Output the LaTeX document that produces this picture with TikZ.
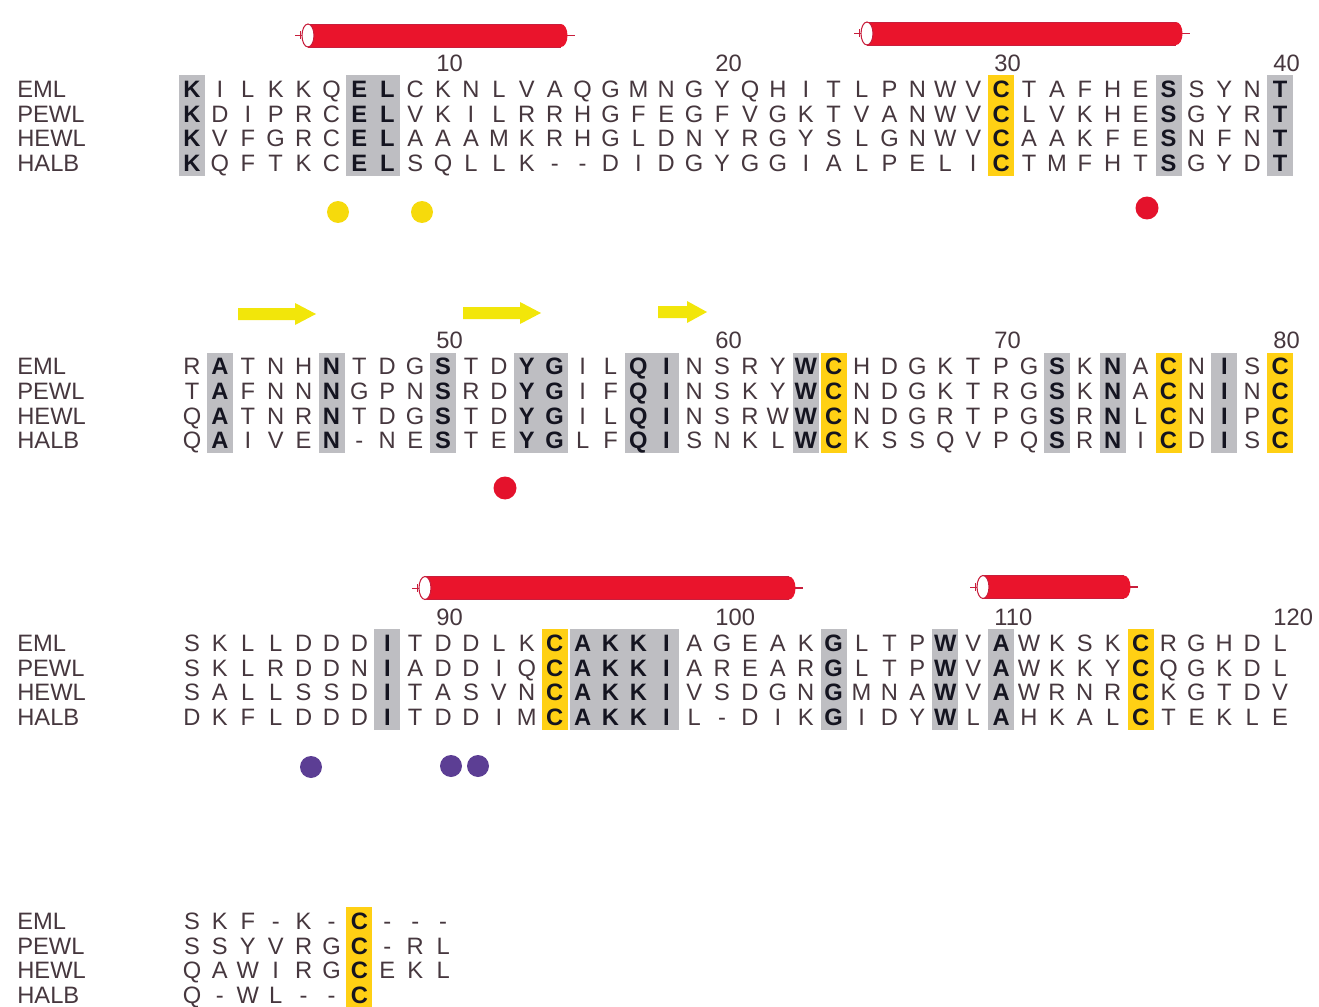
\documentclass[tikz,border=0pt]{standalone}
\usepackage{fontspec}
\setmainfont{Liberation Sans}

\definecolor{restext}{RGB}{70,55,62}
\definecolor{consblack}{RGB}{20,20,32}
\definecolor{consgray}{RGB}{190,190,194}
\definecolor{cysyellow}{RGB}{255,208,20}
\definecolor{helixred}{RGB}{234,20,44}
\definecolor{helixedge}{RGB}{200,30,60}
\definecolor{strandyellow}{RGB}{242,230,10}
\definecolor{dotyellow}{RGB}{246,218,12}
\definecolor{dotred}{RGB}{228,18,44}
\definecolor{dotpurple}{RGB}{92,62,148}

% conserved residue
\newcommand\cv[1]{{\bfseries\color{consblack}#1}}
% one row of residues: #1 y, #2 node prefix, #3 letters
\newcommand\seqrow[3]{%
  \foreach \res [count=\i] in {#3}
    \node[res] (#2c\i) at ({192+(\i-1)*27.9},#1) {\res};}
% shaded column range: #1 block y, #2 first col, #3 last col, #4 style
\newcommand\colbox[4]{%
  \fill[#4] ({192+(#2-1)*27.9-13},{#1-14}) rectangle ({192+(#3-1)*27.9+13},{#1+3*24.6+13});}
% helix cylinder: #1 x open end, #2 x closed end, #3 y
\newcommand\helix[3]{%
  \draw[helixedge, line width=0.4pt] ({#1-13},#3) -- (#1,#3) ({#1-8},{#3-4}) -- ({#1-8},{#3+4});
  \draw[helixedge, line width=0.6pt] (#2,#3) -- ({#2+14},#3);
  \fill[helixred] (#2,#3) ellipse [x radius=0.13cm, y radius=0.23cm];
  \fill[helixred] (#1,{#3-11.5}) rectangle (#2,{#3+11.5});
  \draw[helixedge, line width=0.4pt] (#1,{#3-11.5}) -- (#2,{#3-11.5}) (#1,{#3+11.5}) -- (#2,{#3+11.5});
  \filldraw[fill=white, draw=helixedge, line width=0.6pt] (#1,#3) ellipse [x radius=0.12cm, y radius=0.23cm];}
% beta strand arrow: #1 x tail, #2 x head base, #3 x tip, #4 y
\newcommand\strand[4]{%
  \fill[strandyellow] (#1,{#4-6}) -- (#2,{#4-6}) -- (#2,{#4-11}) -- (#3,#4)
    -- (#2,{#4+11}) -- (#2,{#4+6}) -- (#1,{#4+6}) -- cycle;}

\begin{document}
\begin{tikzpicture}[x=0.02cm, y=-0.02cm]
  \tikzset{
    res/.style={inner sep=0pt, anchor=base, yshift=-0.17cm, text=restext,
      font=\fontsize{13.5}{16}\selectfont},
    lab/.style={res, anchor=base west},
    num/.style={res, anchor=base west},
    graybox/.style={fill=consgray},
    cysbox/.style={fill=cysyellow}
  }
  \useasboundingbox (0,0) rectangle (1319,1007);

  % sequence names, four blocks
  \foreach \by [count=\b] in {89,366.5,643,921}
    \foreach \nm [count=\k] in {EML,PEWL,HEWL,HALB}
      \node[lab] (lab\b\nm) at (17,{\by+(\k-1)*24.6}) {\nm};

  % ==========================================
  % BLOCK 1 (residues 1-40)
  % ==========================================
  \helix{308}{561}{35.5}
  \helix{867}{1176}{33.5}
  \colbox{89}{1}{1}{graybox}
  \colbox{89}{7}{8}{graybox}
  \colbox{89}{30}{30}{cysbox}
  \colbox{89}{36}{36}{graybox}
  \colbox{89}{40}{40}{graybox}
  \foreach \n in {10,20,30,40}
    \node[num] (num1n\n) at ({192+(\n-1)*27.9-7},63) {\n};
  \seqrow{89}{aEML}{\cv{K},I,L,K,K,Q,\cv{E},\cv{L},C,K,N,L,V,A,Q,G,M,N,G,Y,Q,H,I,T,L,P,N,W,V,\cv{C},T,A,F,H,E,\cv{S},S,Y,N,\cv{T}}
  \seqrow{113.6}{aPEWL}{\cv{K},D,I,P,R,C,\cv{E},\cv{L},V,K,I,L,R,R,H,G,F,E,G,F,V,G,K,T,V,A,N,W,V,\cv{C},L,V,K,H,E,\cv{S},G,Y,R,\cv{T}}
  \seqrow{138.2}{aHEWL}{\cv{K},V,F,G,R,C,\cv{E},\cv{L},A,A,A,M,K,R,H,G,L,D,N,Y,R,G,Y,S,L,G,N,W,V,\cv{C},A,A,K,F,E,\cv{S},N,F,N,\cv{T}}
  \seqrow{162.8}{aHALB}{\cv{K},Q,F,T,K,C,\cv{E},\cv{L},S,Q,L,L,K,-,-,D,I,D,G,Y,G,G,I,A,L,P,E,L,I,\cv{C},T,M,F,H,T,\cv{S},G,Y,D,\cv{T}}
  \fill[dotyellow] (338,212) circle [radius=0.22cm];
  \fill[dotyellow] (422,212) circle [radius=0.22cm];
  \fill[dotred] (1147,208) circle [radius=0.23cm];

  % ==========================================
  % BLOCK 2 (residues 41-80)
  % ==========================================
  \strand{238}{295}{316}{314}
  \strand{463}{520}{541}{313}
  \strand{658}{687}{707}{312}
  \foreach \c in {2,6,10,23,32,34,38} \colbox{366.5}{\c}{\c}{graybox};
  \colbox{366.5}{13}{14}{graybox}
  \colbox{366.5}{17}{18}{graybox}
  \foreach \c in {24,36,40} \colbox{366.5}{\c}{\c}{cysbox};
  \foreach \n [count=\k] in {50,60,70,80}
    \node[num] (num2n\n) at ({192+(10*\k-1)*27.9-7},340.5) {\n};
  \seqrow{366.5}{bEML}{R,\cv{A},T,N,H,\cv{N},T,D,G,\cv{S},T,D,\cv{Y},\cv{G},I,L,\cv{Q},\cv{I},N,S,R,Y,\cv{W},\cv{C},H,D,G,K,T,P,G,\cv{S},K,\cv{N},A,\cv{C},N,\cv{I},S,\cv{C}}
  \seqrow{391.1}{bPEWL}{T,\cv{A},F,N,N,\cv{N},G,P,N,\cv{S},R,D,\cv{Y},\cv{G},I,F,\cv{Q},\cv{I},N,S,K,Y,\cv{W},\cv{C},N,D,G,K,T,R,G,\cv{S},K,\cv{N},A,\cv{C},N,\cv{I},N,\cv{C}}
  \seqrow{415.7}{bHEWL}{Q,\cv{A},T,N,R,\cv{N},T,D,G,\cv{S},T,D,\cv{Y},\cv{G},I,L,\cv{Q},\cv{I},N,S,R,W,\cv{W},\cv{C},N,D,G,R,T,P,G,\cv{S},R,\cv{N},L,\cv{C},N,\cv{I},P,\cv{C}}
  \seqrow{440.3}{bHALB}{Q,\cv{A},I,V,E,\cv{N},-,N,E,\cv{S},T,E,\cv{Y},\cv{G},L,F,\cv{Q},\cv{I},S,N,K,L,\cv{W},\cv{C},K,S,S,Q,V,P,Q,\cv{S},R,\cv{N},I,\cv{C},D,\cv{I},S,\cv{C}}
  \fill[dotred] (505,488) circle [radius=0.23cm];

  % ==========================================
  % BLOCK 3 (residues 81-120)
  % ==========================================
  \helix{425}{789}{588}
  \helix{983}{1124}{587}
  \foreach \c in {8,24,28,30} \colbox{643}{\c}{\c}{graybox};
  \colbox{643}{15}{18}{graybox}
  \foreach \c in {14,35} \colbox{643}{\c}{\c}{cysbox};
  \foreach \n [count=\k] in {90,100,110,120}
    \node[num] (num3n\n) at ({192+(10*\k-1)*27.9-7},617) {\n};
  \seqrow{643}{cEML}{S,K,L,L,D,D,D,\cv{I},T,D,D,L,K,\cv{C},\cv{A},\cv{K},\cv{K},\cv{I},A,G,E,A,K,\cv{G},L,T,P,\cv{W},V,\cv{A},W,K,S,K,\cv{C},R,G,H,D,L}
  \seqrow{667.6}{cPEWL}{S,K,L,R,D,D,N,\cv{I},A,D,D,I,Q,\cv{C},\cv{A},\cv{K},\cv{K},\cv{I},A,R,E,A,R,\cv{G},L,T,P,\cv{W},V,\cv{A},W,K,K,Y,\cv{C},Q,G,K,D,L}
  \seqrow{692.2}{cHEWL}{S,A,L,L,S,S,D,\cv{I},T,A,S,V,N,\cv{C},\cv{A},\cv{K},\cv{K},\cv{I},V,S,D,G,N,\cv{G},M,N,A,\cv{W},V,\cv{A},W,R,N,R,\cv{C},K,G,T,D,V}
  \seqrow{716.8}{cHALB}{D,K,F,L,D,D,D,\cv{I},T,D,D,I,M,\cv{C},\cv{A},\cv{K},\cv{K},\cv{I},L,-,D,I,K,\cv{G},I,D,Y,\cv{W},L,\cv{A},H,K,A,L,\cv{C},T,E,K,L,E}
  \fill[dotpurple] (311,767) circle [radius=0.22cm];
  \fill[dotpurple] (451,766) circle [radius=0.22cm];
  \fill[dotpurple] (478,766) circle [radius=0.22cm];

  % ==========================================
  % BLOCK 4 (residues 121-130)
  % ==========================================
  \colbox{921}{7}{7}{cysbox}
  \seqrow{921}{dEML}{S,K,F,-,K,-,\cv{C},-,-,-}
  \seqrow{945.6}{dPEWL}{S,S,Y,V,R,G,\cv{C},-,R,L}
  \seqrow{970.2}{dHEWL}{Q,A,W,I,R,G,\cv{C},E,K,L}
  \seqrow{994.8}{dHALB}{Q,-,W,L,-,-,\cv{C}}
\end{tikzpicture}
\end{document}
